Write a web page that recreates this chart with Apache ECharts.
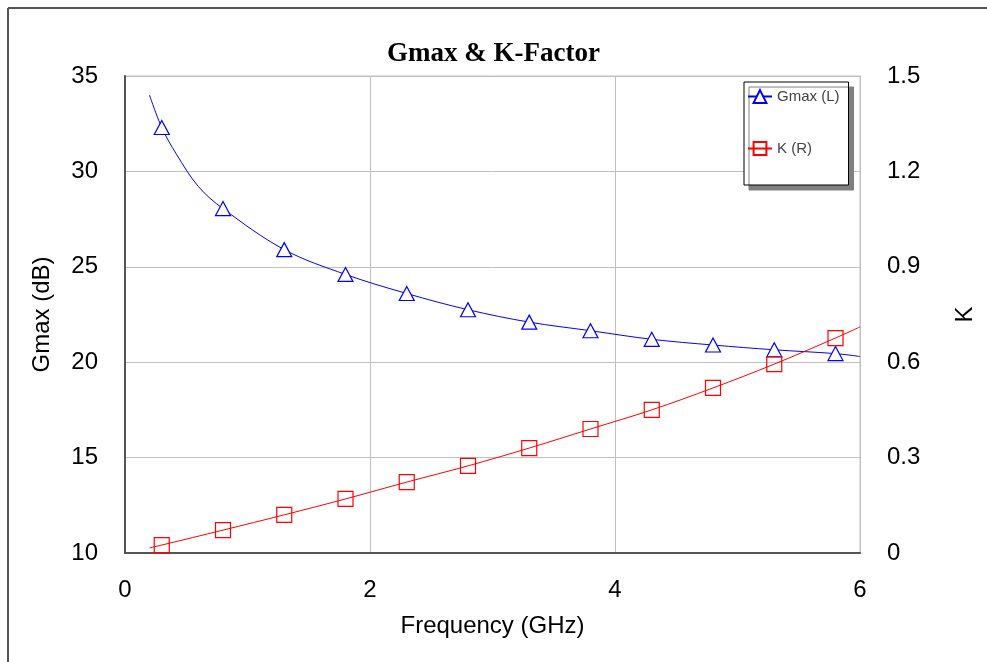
<!DOCTYPE html>
<html>
<head>
<meta charset="utf-8">
<script src="https://cdn.jsdelivr.net/npm/echarts@6/dist/echarts.min.js"></script>
<style>
html,body{margin:0;padding:0;background:#fff;}
#chart{width:987px;height:662px;}
</style>
</head>
<body>
<div id="chart"></div>
<script>
// Marker frequencies (GHz)
var markerFreq = [0.3, 0.8, 1.3, 1.8, 2.3, 2.8, 3.3, 3.8, 4.3, 4.8, 5.3, 5.8];
// Gmax (dB) at marker frequencies
var gmaxMarkers = [32.3, 28.05, 25.9, 24.6, 23.6, 22.75, 22.1, 21.65, 21.2, 20.9, 20.65, 20.45];
// K at marker frequencies
var kMarkers = [0.025, 0.072, 0.12, 0.17, 0.223, 0.274, 0.33, 0.39, 0.45, 0.519, 0.594, 0.676];
// Extra curve points (no markers)
var gmaxCurveFreq = [0.2, 0.42, 0.6, 6.0];
var gmaxCurveVals = [34.0, 30.9, 29.2, 20.3];
var kCurveFreq = [0.2, 6.0];
var kCurveVals = [0.016, 0.711];
// Axis ticks
var xTicks = [0, 2, 4, 6];
var leftTicks = [10, 15, 20, 25, 30, 35];
var rightTicks = [0, 0.3, 0.6, 0.9, 1.2, 1.5];

function buildSeriesData(mf, mv, cf, cv) {
  var pts = [];
  for (var i = 0; i < mf.length; i++) pts.push({value: [mf[i], mv[i]], marker: true});
  for (var j = 0; j < cf.length; j++) pts.push({value: [cf[j], cv[j]], marker: false});
  pts.sort(function (a, b) { return a.value[0] - b.value[0]; });
  return pts.map(function (p) {
    return p.marker ? {value: p.value} : {value: p.value, symbol: 'none'};
  });
}

var chart = echarts.init(document.getElementById('chart'), null, {renderer: 'canvas'});
var sansFont = '"Liberation Sans", Arial, sans-serif';

var option = {
  backgroundColor: '#ffffff',
  animation: false,
  title: {
    text: 'Gmax & K-Factor',
    left: 'center',
    top: 36,
    textStyle: {fontFamily: '"Liberation Serif", "Times New Roman", serif', fontWeight: 'bold', fontSize: 27, color: '#000'}
  },
  legend: {
    orient: 'vertical',
    left: 744,
    top: 82,
    padding: [7, 9, 29, 3],
    itemGap: 37,
    itemWidth: 24,
    itemHeight: 16,
    backgroundColor: '#ffffff',
    borderColor: '#000',
    borderWidth: 1,
    shadowColor: '#808080',
    shadowBlur: 0,
    shadowOffsetX: 5,
    shadowOffsetY: 5,
    textStyle: {fontFamily: sansFont, fontSize: 15, color: '#444'},
    data: ['Gmax (L)', 'K (R)']
  },
  grid: {
    left: 125, right: 127, top: 76, bottom: 109,
    show: true, borderColor: '#c0c0c0', borderWidth: 1, backgroundColor: 'transparent'
  },
  xAxis: {
    type: 'value',
    min: xTicks[0], max: xTicks[xTicks.length - 1], interval: 2,
    name: 'Frequency (GHz)', nameLocation: 'middle', nameGap: 61,
    nameTextStyle: {fontFamily: sansFont, fontSize: 24, color: '#000'},
    axisLine: {show: true, lineStyle: {color: '#555', width: 2}},
    axisTick: {show: false},
    axisLabel: {fontFamily: sansFont, fontSize: 24, color: '#000', margin: 25},
    splitLine: {show: true, lineStyle: {color: '#c0c0c0', width: 1}}
  },
  yAxis: [{
    type: 'value', position: 'left',
    min: leftTicks[0], max: leftTicks[leftTicks.length - 1], interval: 5,
    name: 'Gmax (dB)', nameLocation: 'middle', nameGap: 71, nameRotate: 90,
    nameTextStyle: {fontFamily: sansFont, fontSize: 24, color: '#000'},
    axisLine: {show: true, lineStyle: {color: '#555', width: 2}},
    axisTick: {show: false},
    axisLabel: {fontFamily: sansFont, fontSize: 24, color: '#000', margin: 27},
    splitLine: {show: true, lineStyle: {color: '#c0c0c0', width: 1}}
  }, {
    type: 'value', position: 'right',
    min: rightTicks[0], max: rightTicks[rightTicks.length - 1], interval: 0.3,
    name: 'K', nameLocation: 'middle', nameGap: 93, nameRotate: 90,
    nameTextStyle: {fontFamily: sansFont, fontSize: 24, color: '#000'},
    axisLine: {show: true, lineStyle: {color: '#c0c0c0', width: 1}},
    axisTick: {show: false},
    axisLabel: {fontFamily: sansFont, fontSize: 24, color: '#000', margin: 27,
      formatter: function (v) { return v === 0 ? '0' : v.toFixed(1); }},
    splitLine: {show: false}
  }],
  graphic: [
    {type: 'line', shape: {x1: 8, y1: 8, x2: 8, y2: 662}, style: {stroke: '#555', lineWidth: 2}, silent: true},
    {type: 'line', shape: {x1: 8, y1: 8, x2: 987, y2: 8}, style: {stroke: '#555', lineWidth: 2}, silent: true}
  ],
  series: [{
    name: 'Gmax (L)',
    type: 'line',
    yAxisIndex: 0,
    smooth: 0.35,
    symbol: 'triangle',
    symbolSize: [15, 14],
    showAllSymbol: true,
    lineStyle: {color: '#0000ff', width: 1},
    itemStyle: {color: '#ffffff', borderColor: '#0000ff', borderWidth: 1.2, opacity: 1},
    data: buildSeriesData(markerFreq, gmaxMarkers, gmaxCurveFreq, gmaxCurveVals)
  }, {
    name: 'K (R)',
    type: 'line',
    yAxisIndex: 1,
    smooth: 0.35,
    symbol: 'rect',
    symbolSize: [15, 15],
    showAllSymbol: true,
    lineStyle: {color: '#ff0000', width: 1},
    itemStyle: {color: 'rgba(255,255,255,0)', borderColor: '#ff0000', borderWidth: 1.2},
    data: buildSeriesData(markerFreq, kMarkers, kCurveFreq, kCurveVals)
  }]
};
chart.setOption(option);
</script>
</body>
</html>
